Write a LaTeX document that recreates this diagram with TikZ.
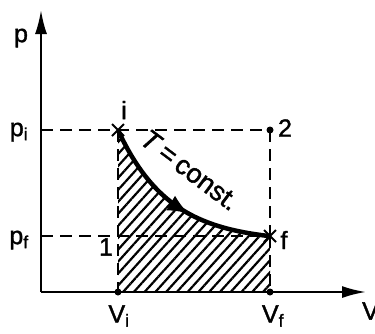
\documentclass[tikz,border=0pt]{standalone}
\usepackage{fontspec}
\setmainfont[FakeBold=1.5]{Liberation Sans}
\usetikzlibrary{arrows.meta,patterns.meta,calc}
\begin{document}
\begin{tikzpicture}[x=1pt,y=-1pt,
  axis/.style={line width=2.2pt,-{Latex[length=24pt,width=12pt]}},
  guide/.style={line width=1.8pt,dash pattern=on 12pt off 7pt},
  lbl/.style={font=\fontsize{25}{29}\selectfont,inner sep=0pt},
  dot/.style={circle,fill=black,inner sep=0pt,minimum size=7pt},
]
\useasboundingbox (0,0) rectangle (375,333);
% coordinates
\coordinate (O) at (41,292);
\coordinate (ytop) at (41,10);
\coordinate (xend) at (366,292);
\coordinate (i) at (118,130);
\coordinate (f) at (270,236);
\coordinate (Vi) at (118,292);
\coordinate (Vf) at (270,292);
\coordinate (pi) at (41,130);
\coordinate (pf) at (41,236);
\coordinate (two) at (270,130);
% hatched area
\path[pattern={Lines[angle=48,distance=8pt,line width=2.2pt]}]
  (Vi) -- (i) -- plot[domain=118:270,samples=60,smooth] ({\x},{242-112*exp(-(\x-118)/51.5)}) -- (Vf) -- cycle;
% guides
\draw[guide] (pi) -- (two);
\draw[guide] (two) -- (f);
\draw[guide] (pf) -- (f);
\draw[guide] (i) -- (Vi);
\draw[guide] (f) -- (Vf);
% axes
\draw[axis] (O) -- (ytop);
\draw[axis] (O) -- (xend);
% isotherm
\draw[line width=4.5pt]
  plot[domain=118:270,samples=60,smooth] ({\x},{242-112*exp(-(\x-118)/51.5)});
\draw[line width=1pt,-{Latex[length=20pt,width=17pt]}]
  plot[domain=150:188,samples=8] ({\x},{242-112*exp(-(\x-118)/51.5)});
% markers
\node[dot] (d2) at (two) {};
\node[dot] (dVi) at (Vi) {};
\node[dot] (dVf) at (Vf) {};
\draw[line width=2pt] ($(i)+(-6,-6)$) -- ($(i)+(6,6)$) ($(i)+(-6,6)$) -- ($(i)+(6,-6)$);
\draw[line width=2pt] ($(f)+(-6,-6)$) -- ($(f)+(6,6)$) ($(f)+(-6,6)$) -- ($(f)+(6,-6)$);
% labels
\node[lbl] (lp) at (21,38) {p};
\node[lbl] (lpi) at (19,132) {p\textsubscript{i}};
\node[lbl] (lpf) at (19,240) {p\textsubscript{f}};
\node[lbl] (lVi) at (119,316) {V\textsubscript{i}};
\node[lbl] (lVf) at (273,316) {V\textsubscript{f}};
\node[lbl,anchor=west] (lV) at (362,311) {V};
\node[lbl] (li) at (124,110) {i};
\node[lbl] (l2) at (285,128) {2};
\node[lbl] (lf) at (284,240) {f};
\node[lbl] (l1) at (106,247) {1};
\node[lbl,font=\fontsize{27}{31}\selectfont,rotate=-37] (lT) at (190,170) {\textit{T}\,=\,const.};
\end{tikzpicture}
\end{document}
